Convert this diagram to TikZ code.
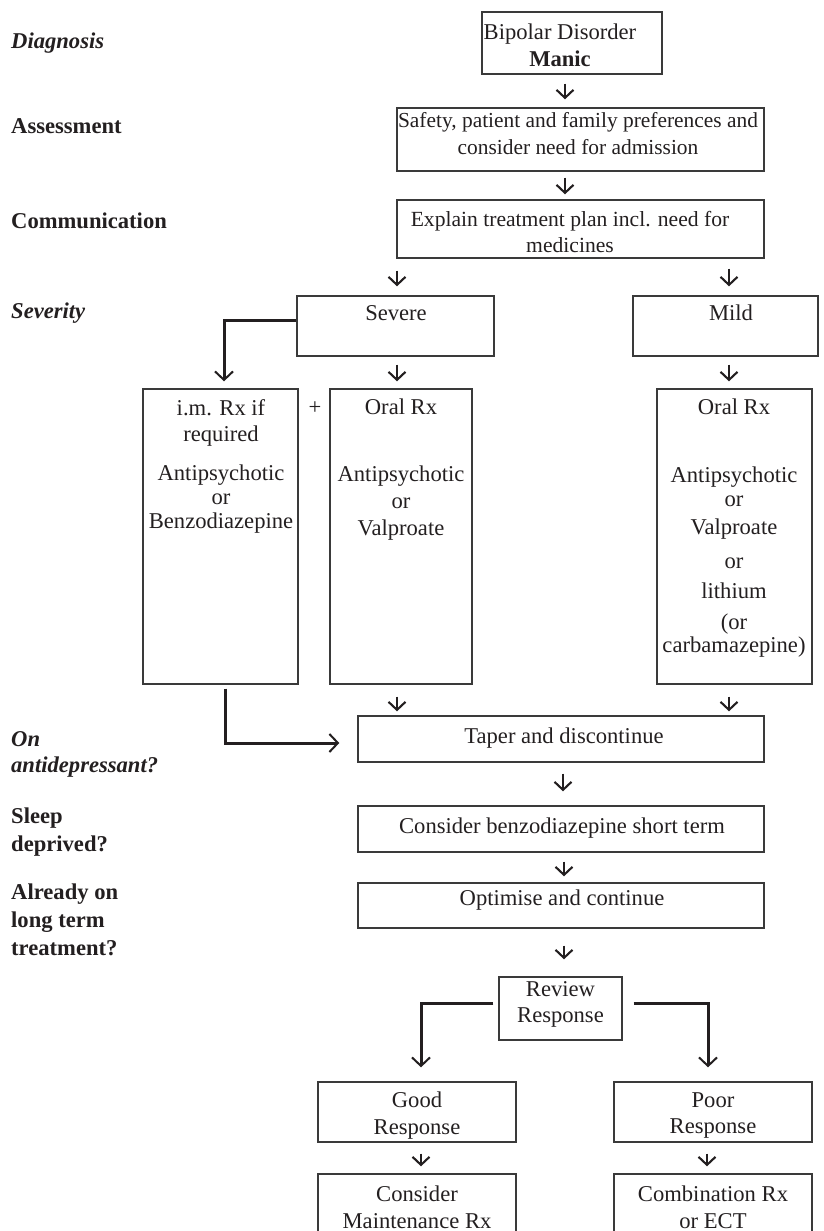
\documentclass[tikz,border=0pt]{standalone}
\usepackage{fontspec}
\setmainfont{Liberation Serif}
\usetikzlibrary{arrows.meta}
\definecolor{ink}{HTML}{231F20}
\definecolor{edge}{HTML}{3A3A3A}
\begin{document}
\begin{tikzpicture}[x=1pt,y=-1pt,
  box/.style={draw=edge, line width=1.4pt, inner sep=0pt},
  txt/.style={inner sep=0pt, anchor=north, align=center, text=ink, font=\fontsize{22.6}{26.5}\selectfont},
  ctxt/.style={txt, anchor=center},
  lab/.style={inner sep=0pt, anchor=north west, align=left, text=ink, font=\fontsize{22.6}{28}\selectfont\bfseries},
  ilab/.style={lab, font=\fontsize{22.6}{26}\selectfont\bfseries\itshape},
  darr/.style={draw=ink, line width=2.1pt, -{Straight Barb[length=8pt,width=17pt]}},
  elb/.style={draw=ink, line width=3pt, -{Straight Barb[length=8.5pt,width=18pt,line width=2pt]}},
]
\useasboundingbox (0,0) rectangle (824,1231);

% ---------- left column labels ----------
\node[ilab] (lDiag) at (11,33) {Diagnosis};
\node[lab] (lAss) at (11,118) {Assessment};
\node[lab] (lCom) at (11,213) {Communication};
\node[ilab] (lSev) at (11,303) {Severity};
\node[ilab] (lAnti) at (11,731) {On\\antidepressant?};
\node[lab] (lSleep) at (11,808) {Sleep\\deprived?};
\node[lab] (lLong) at (11,884) {Already on\\long term\\treatment?};

% ---------- boxes ----------
\node[box, minimum width=180pt, minimum height=62pt] (b1) at (572,43) {};
\node[box, minimum width=367pt, minimum height=63pt] (b2) at (580.5,139.5) {};
\node[box, minimum width=367pt, minimum height=58pt] (b3) at (580.5,229) {};
\node[box, minimum width=197pt, minimum height=60pt] (sev) at (395.5,326) {};
\node[box, minimum width=185pt, minimum height=60pt] (mild) at (725.5,326) {};
\node[box, minimum width=155pt, minimum height=295pt] (im) at (220.5,536.5) {};
\node[box, minimum width=142pt, minimum height=295pt] (oral1) at (401,536.5) {};
\node[box, minimum width=155pt, minimum height=295pt] (oral2) at (734.5,536.5) {};
\node[box, minimum width=406pt, minimum height=46pt] (taper) at (561,739) {};
\node[box, minimum width=406pt, minimum height=46pt] (benzo) at (561,829) {};
\node[box, minimum width=406pt, minimum height=45pt] (opt) at (561,905.5) {};
\node[box, minimum width=123pt, minimum height=63pt] (rev) at (560.5,1008.5) {};
\node[box, minimum width=198pt, minimum height=60pt] (good) at (417,1112) {};
\node[box, minimum width=198pt, minimum height=60pt] (poor) at (713,1112) {};
\node[box, minimum width=198pt, minimum height=66pt] (maint) at (417,1207) {};
\node[box, minimum width=198pt, minimum height=66pt] (comb) at (713,1207) {};

% ---------- texts ----------
\node[txt] (t1) at (560,24) {Bipolar Disorder\\\textbf{Manic}};
\node[txt, font=\fontsize{21.4}{27}\selectfont] (t2) at (578,112) {Safety, patient and family preferences and\\consider need for admission};
\node[txt, font=\fontsize{21.6}{26}\selectfont] (t3) at (570,211) {Explain treatment plan incl. need for\\medicines};
\node[txt] (tsev) at (396,305) {Severe};
\node[txt] (tmild) at (731,305) {Mild};
\node[txt] (tim1) at (221,399) {i.m. Rx if\\required};
\node[txt, font=\fontsize{22.6}{24}\selectfont] (tim2) at (221,465) {Antipsychotic\\or\\Benzodiazepine};
\node[txt] (tplus) at (315,402) {+};
\node[txt] (to1a) at (401,399) {Oral Rx};
\node[txt, font=\fontsize{22.6}{27}\selectfont] (to1b) at (401,466) {Antipsychotic\\or\\Valproate};
\node[txt] (to2a) at (734,399) {Oral Rx};
\node[txt, font=\fontsize{22.6}{23.5}\selectfont] (to2b) at (734,467) {Antipsychotic\\or\\[5pt]Valproate\\[10pt]or\\[7pt]lithium\\[7pt](or\\carbamazepine)};
\node[ctxt] (ttaper) at (564,738) {Taper and discontinue};
\node[ctxt] (tbenzo) at (562,828) {Consider benzodiazepine short term};
\node[ctxt] (topt) at (562,900) {Optimise and continue};
\node[txt] (trev) at (560.5,981) {Review\\Response};
\node[txt] (tgood) at (417,1092) {Good\\Response};
\node[txt] (tpoor) at (713,1092) {Poor\\Response};
\node[txt] (tmaint) at (417,1186) {Consider\\Maintenance Rx};
\node[txt] (tcomb) at (713,1186) {Combination Rx\\or ECT};

% ---------- short down arrows ----------
\draw[darr, shorten <=9pt, shorten >=8pt] (b1.south -| 565,0) -- (b2.north -| 565,0);
\draw[darr, shorten <=6pt, shorten >=5pt] (b2.south -| 565,0) -- (b3.north -| 565,0);
\draw[darr, shorten <=12pt, shorten >=9pt] (b3.south -| 397,0) -- (sev.north -| 397,0);
\draw[darr, shorten <=10pt, shorten >=9pt] (b3.south -| 729,0) -- (mild.north -| 729,0);
\draw[darr, shorten <=8pt, shorten >=7pt] (sev.south -| 397,0) -- (oral1.north -| 397,0);
\draw[darr, shorten <=8pt, shorten >=7pt] (mild.south -| 729,0) -- (oral2.north -| 729,0);
\draw[darr, shorten <=12pt, shorten >=4pt] (oral1.south -| 397,0) -- (taper.north -| 397,0);
\draw[darr, shorten <=12pt, shorten >=4pt] (oral2.south -| 729,0) -- (taper.north -| 729,0);
\draw[darr, shorten <=11pt, shorten >=14pt] (taper.south -| 563,0) -- (benzo.north -| 563,0);
\draw[darr, shorten <=9pt, shorten >=6pt] (benzo.south -| 564,0) -- (opt.north -| 564,0);
\draw[darr, shorten <=17pt, shorten >=17pt] (opt.south -| 564,0) -- (rev.north -| 564,0);
\draw[darr, shorten <=11pt, shorten >=7pt] (good.south -| 421,0) -- (maint.north -| 421,0);
\draw[darr, shorten <=11pt, shorten >=7pt] (poor.south -| 707,0) -- (comb.north -| 707,0);

% ---------- elbow connectors ----------
\draw[elb, shorten >=7pt] (sev.west |- 0,320) -| (224,0 |- im.north);
\draw[elb, shorten <=4pt, shorten >=18pt] (im.south -| 225,0) |- (taper.west |- 0,743);
\draw[elb, shorten <=5pt, shorten >=14pt] (rev.west |- 0,1003) -| (421,0 |- good.north);
\draw[elb, shorten <=11pt, shorten >=14pt] (rev.east |- 0,1003) -| (708,0 |- poor.north);
\end{tikzpicture}
\end{document}
